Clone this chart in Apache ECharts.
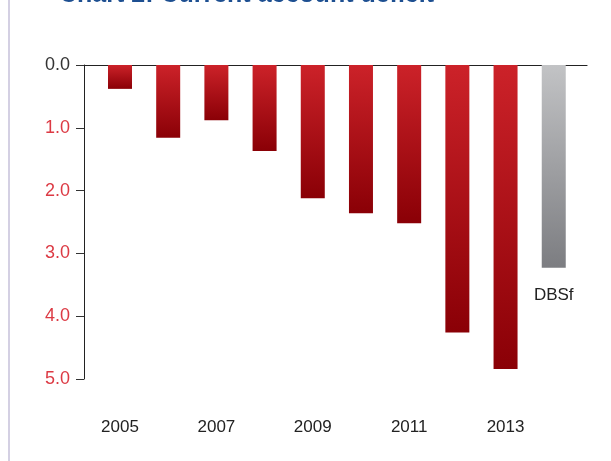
<!DOCTYPE html>
<html>
<head>
<meta charset="utf-8">
<script src="https://cdn.jsdelivr.net/npm/echarts@6/dist/echarts.min.js"></script>
<style>
  html, body { margin: 0; padding: 0; background: #fff; }
  #chart { width: 611px; height: 461px; }
</style>
</head>
<body>
<div id="chart"></div>
<script>
const years = [2005, 2006, 2007, 2008, 2009, 2010, 2011, 2012, 2013, 2014];
const deficit = [0.38, 1.16, 0.88, 1.37, 2.12, 2.36, 2.52, 4.26, 4.84, 3.23];
const forecastLabel = 'DBSf';
const yearLabels = [2005, 2007, 2009, 2011, 2013];
const titleText = 'Chart 2: Current account deficit';

const redGradient = new echarts.graphic.LinearGradient(0, 0, 0, 1, [
    { offset: 0, color: '#cc2229' },
    { offset: 1, color: '#8a0006' }
]);
const greyGradient = new echarts.graphic.LinearGradient(0, 0, 0, 1, [
    { offset: 0, color: '#c2c3c5' },
    { offset: 1, color: '#7c7d81' }
]);

const barData = years.map((y, i) => {
    const last = i === years.length - 1;
    const item = {
        value: [y, deficit[i]],
        itemStyle: { color: last ? greyGradient : redGradient }
    };
    if (last) {
        item.label = {
            show: true,
            position: 'bottom',
            distance: 19,
            formatter: forecastLabel,
            color: '#222',
            fontSize: 17,
            fontFamily: 'Liberation Sans'
        };
    }
    return item;
});

const chart = echarts.init(document.getElementById('chart'));

chart.setOption({
    animation: false,
    backgroundColor: '#fff',
    title: {
        text: titleText,
        left: 54,
        top: -22,
        textStyle: {
            color: '#1d4f91',
            fontSize: 25,
            fontWeight: 'bold',
            fontFamily: 'Liberation Sans'
        }
    },
    graphic: [{
        type: 'rect',
        shape: { x: 8, y: 0, width: 2, height: 461 },
        style: { fill: '#d4d0e3' },
        silent: true
    }],
    grid: { left: 84, right: 24, top: 65, bottom: 82 },
    xAxis: [
        {
            type: 'value',
            position: 'top',
            min: 2004.253,
            max: 2014.69,
            axisLine: { show: true, onZero: false, lineStyle: { color: '#222', width: 1.2 } },
            axisTick: { show: false },
            axisLabel: { show: false },
            splitLine: { show: false }
        },
        {
            type: 'value',
            position: 'bottom',
            min: 2004.253,
            max: 2014.69,
            axisLine: { show: false, onZero: false },
            axisTick: { show: false },
            splitLine: { show: false },
            axisLabel: {
                customValues: yearLabels,
                formatter: v => String(v),
                margin: 40,
                color: '#222',
                fontSize: 17,
                fontFamily: 'Liberation Sans'
            }
        }
    ],
    yAxis: {
        type: 'value',
        inverse: true,
        min: 0,
        max: 5,
        interval: 1,
        axisLine: { show: true, lineStyle: { color: '#222', width: 1 } },
        axisTick: { show: true, length: 8, lineStyle: { color: '#333' } },
        splitLine: { show: false },
        axisLabel: {
            margin: 14,
            fontSize: 18,
            fontFamily: 'Liberation Sans',
            formatter: v => v.toFixed(1),
            color: (v, i) => (Number(v) === 0 ? '#333' : '#dc3a44')
        }
    },
    series: [{
        type: 'bar',
        xAxisIndex: 0,
        barWidth: 24,
        data: barData
    }]
});
</script>
</body>
</html>
